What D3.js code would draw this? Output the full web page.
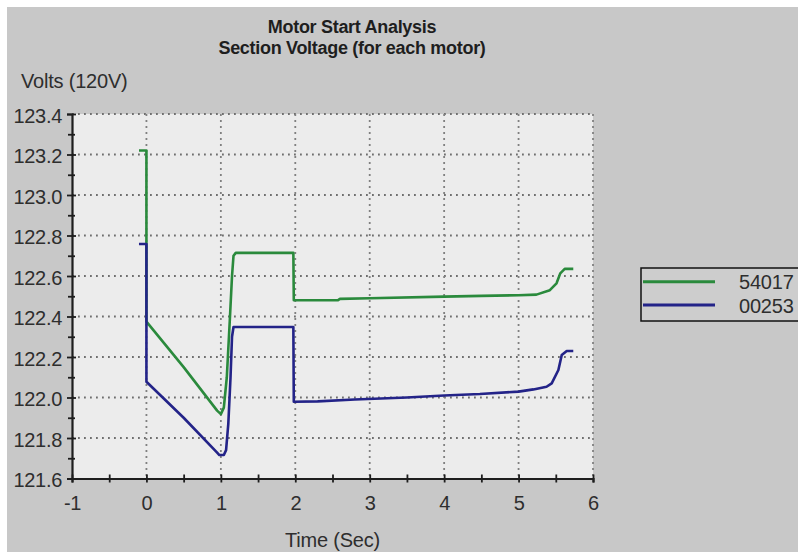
<!DOCTYPE html>
<html>
<head>
<meta charset="utf-8">
<script src="https://cdn.jsdelivr.net/npm/d3@7"></script>
<style>
  html, body { margin: 0; padding: 0; background: #ffffff; }
  svg { display: block; }
  text { font-family: "Liberation Sans", Arial, sans-serif; }
</style>
</head>
<body>
<svg id="chart" width="798" height="552"></svg>
<script>
// ---- Data ----
const titleLines = ["Motor Start Analysis", "Section Voltage (for each motor)"];
const yAxisLabel = "Volts (120V)";
const xAxisLabel = "Time (Sec)";
const seriesNames = ["54017", "00253"];
const seriesColors = ["#2a8a3c", "#232388"];

const xTicks = [-1, 0, 1, 2, 3, 4, 5, 6];
const xTickLabels = ["-1", "0", "1", "2", "3", "4", "5", "6"];
const xMinorTicks = [-0.5, 0.5, 1.5, 2.5, 3.5, 4.5, 5.5];
const yTicks = [121.6, 121.8, 122.0, 122.2, 122.4, 122.6, 122.8, 123.0, 123.2, 123.4];
const yTickLabels = ["121.6", "121.8", "122.0", "122.2", "122.4", "122.6", "122.8", "123.0", "123.2", "123.4"];
const yMinorTicks = [121.7, 121.9, 122.1, 122.3, 122.5, 122.7, 122.9, 123.1, 123.3];

// series 54017 (green): [time, volts]
const series54017 = [
  [-0.1, 123.22], [0, 123.22], [0, 122.375], [0.5, 122.15], [0.95, 121.935],
  [1.0, 121.918], [1.04, 121.95], [1.08, 122.1], [1.12, 122.38], [1.15, 122.6],
  [1.17, 122.7], [1.2, 122.714], [1.974, 122.714], [1.98, 122.48], [2.57, 122.48],
  [2.6, 122.487], [3.0, 122.49], [4.0, 122.498], [4.5, 122.502], [5.0, 122.505],
  [5.24, 122.508], [5.42, 122.53], [5.51, 122.564], [5.56, 122.613], [5.62, 122.635],
  [5.735, 122.635]
];
// series 00253 (blue): [time, volts]
const series00253 = [
  [-0.1, 122.758], [0, 122.758], [0, 122.078], [0.5, 121.9], [0.95, 121.728],
  [0.98, 121.716], [1.04, 121.716], [1.07, 121.74], [1.1, 121.87], [1.13, 122.1],
  [1.15, 122.3], [1.17, 122.348], [1.974, 122.348], [1.98, 121.979], [2.3, 121.981],
  [2.8, 121.99], [3.5, 122.0], [4.0, 122.01], [4.48, 122.017], [5.0, 122.029],
  [5.2, 122.04], [5.376, 122.053], [5.445, 122.07], [5.535, 122.136], [5.58, 122.21],
  [5.647, 122.23], [5.735, 122.23]
];
const seriesData = [series54017, series00253];

// ---- Layout ----
const svg = d3.select("#chart");
const W = 798, H = 552;
const plot = { left: 72, right: 593, top: 114, bottom: 478.5 };

// backgrounds
svg.append("rect").attr("x", 0).attr("y", 0).attr("width", W).attr("height", H).attr("fill", "#ffffff");
svg.append("rect").attr("x", 7).attr("y", 7).attr("width", W - 7).attr("height", H - 7).attr("fill", "#c8c8c8");
svg.append("rect").attr("x", plot.left).attr("y", plot.top)
  .attr("width", plot.right - plot.left).attr("height", plot.bottom - plot.top)
  .attr("fill", "#ececec");

const x = d3.scaleLinear().domain([-1, 6]).range([plot.left, plot.right]);
const y = d3.scaleLinear().domain([121.6, 123.4]).range([plot.bottom, plot.top]);

// grid
const grid = svg.append("g");
grid.selectAll("line.hg").data(yTicks.filter(v => v > 121.6))
  .enter().append("line")
  .attr("x1", plot.left).attr("x2", plot.right)
  .attr("y1", d => y(d)).attr("y2", d => y(d))
  .attr("stroke", "#6e6e6e").attr("stroke-width", 1.8).attr("stroke-dasharray", "1.8,4.2");
grid.selectAll("line.vg").data(xTicks.filter(v => v > -1))
  .enter().append("line")
  .attr("x1", d => x(d)).attr("x2", d => x(d))
  .attr("y1", plot.top).attr("y2", plot.bottom)
  .attr("stroke", "#808080").attr("stroke-width", 1.8).attr("stroke-dasharray", "2,4");

// series lines
const line = d3.line().x(d => x(d[0])).y(d => y(d[1]));
seriesData.forEach((s, i) => {
  svg.append("path").datum(s)
    .attr("d", line)
    .attr("fill", "none")
    .attr("stroke", seriesColors[i])
    .attr("stroke-width", 2.6)
    .attr("stroke-linejoin", "round");
});

// axes
const yAxis = d3.axisLeft(y).tickValues(yTicks).tickSize(5).tickPadding(5)
  .tickFormat((d, i) => yTickLabels[i]);
const gy = svg.append("g").attr("transform", `translate(${plot.left},0)`).call(yAxis);
gy.selectAll(".tick line").attr("x2", -5).attr("x1", 4);
const gyMinor = svg.append("g").attr("transform", `translate(${plot.left},0)`)
  .call(d3.axisLeft(y).tickValues(yMinorTicks).tickSize(4).tickFormat(""));
gyMinor.selectAll(".tick line").attr("x2", -4).attr("x1", 3);
gyMinor.select(".domain").remove();

const xAxis = d3.axisBottom(x).tickValues(xTicks).tickSize(4).tickPadding(13)
  .tickFormat((d, i) => xTickLabels[i]);
const gx = svg.append("g").attr("transform", `translate(0,${plot.bottom})`).call(xAxis);
gx.selectAll(".tick line").attr("y1", -4).attr("y2", 4);
const gxMinor = svg.append("g").attr("transform", `translate(0,${plot.bottom})`)
  .call(d3.axisBottom(x).tickValues(xMinorTicks).tickSize(4).tickFormat(""));
gxMinor.selectAll(".tick line").attr("y1", -4).attr("y2", 4);
gxMinor.select(".domain").remove();

[gy, gx, gyMinor, gxMinor].forEach(g => {
  g.selectAll(".domain").attr("stroke", "#1e1e1e").attr("stroke-width", 2.2);
  g.selectAll(".tick line").attr("stroke", "#1e1e1e").attr("stroke-width", 1.8);
  g.selectAll(".tick text").attr("fill", "#2e2e2e").style("font-size", "20px")
    .style("font-family", "'Liberation Sans', Arial, sans-serif").style("letter-spacing", "-0.3px");
});
gy.selectAll(".tick text").attr("dy", "0.42em");

// title
svg.selectAll("text.title").data(titleLines).enter().append("text")
  .attr("x", 352).attr("y", (d, i) => 33 + i * 21)
  .attr("text-anchor", "middle")
  .attr("fill", "#1e1e1e")
  .style("font-size", "18px").style("font-weight", "bold").style("letter-spacing", "-0.3px")
  .text(d => d);

// axis labels
svg.append("text").attr("x", 21).attr("y", 88)
  .attr("fill", "#2e2e2e").style("font-size", "20px").style("letter-spacing", "-0.2px")
  .text(yAxisLabel);
svg.append("text").attr("x", (plot.left + plot.right) / 2).attr("y", 547)
  .attr("text-anchor", "middle")
  .attr("fill", "#2e2e2e").style("font-size", "20px").style("letter-spacing", "-0.2px")
  .text(xAxisLabel);

// legend
const lg = svg.append("g");
lg.append("rect").attr("x", 641).attr("y", 268).attr("width", 180).attr("height", 53)
  .attr("fill", "#cdcdcd").attr("stroke", "#111").attr("stroke-width", 1.5);
seriesNames.forEach((n, i) => {
  const ly = 281.7 + i * 23.3;
  lg.append("line").attr("x1", 643).attr("x2", 715).attr("y1", ly).attr("y2", ly)
    .attr("stroke", seriesColors[i]).attr("stroke-width", 3);
  lg.append("text").attr("x", 739).attr("y", ly + 7.5)
    .attr("fill", "#2e2e2e").style("font-size", "20px").style("letter-spacing", "-0.2px")
    .text(n);
});
</script>
</body>
</html>
